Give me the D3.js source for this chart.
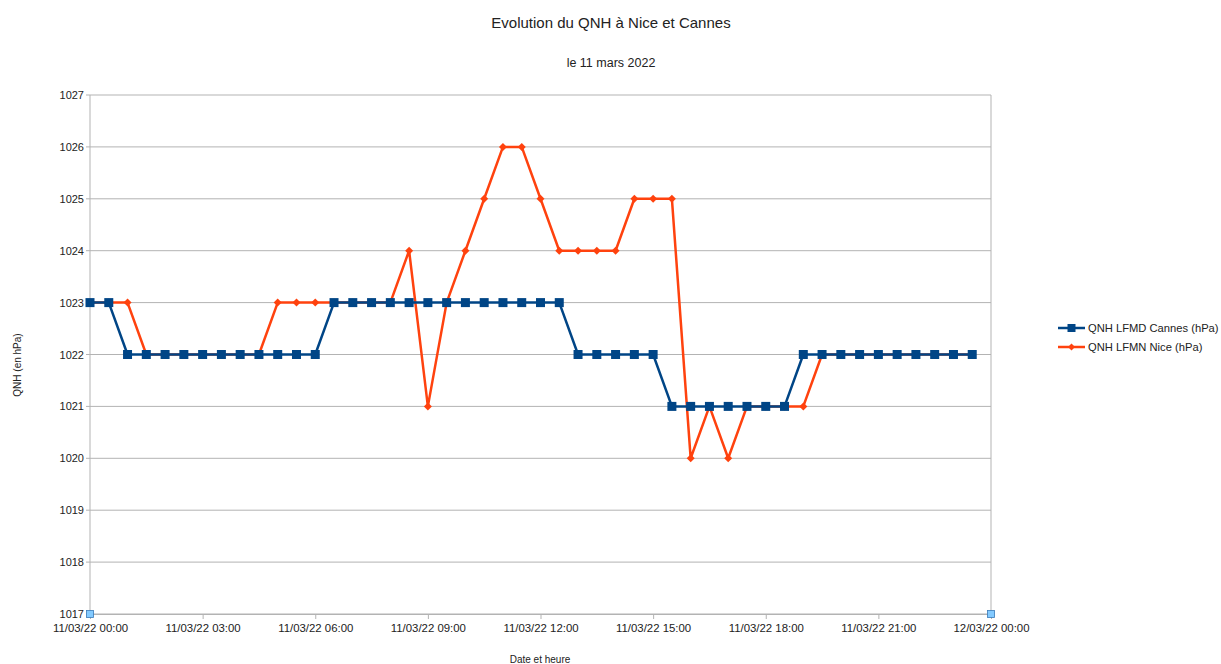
<!DOCTYPE html>
<html><head><meta charset="utf-8">
<script src="https://cdn.jsdelivr.net/npm/d3@7"></script>
<style>body{margin:0;background:#fff}svg{font-family:"Liberation Sans",Arial,sans-serif}</style>
</head><body><svg id="c" width="1221" height="664"></svg>
<script>
const times = ["00:00","00:30","01:00","01:30","02:00","02:30","03:00","03:30","04:00","04:30","05:00","05:30","06:00","06:30","07:00","07:30","08:00","08:30","09:00","09:30","10:00","10:30","11:00","11:30","12:00","12:30","13:00","13:30","14:00","14:30","15:00","15:30","16:00","16:30","17:00","17:30","18:00","18:30","19:00","19:30","20:00","20:30","21:00","21:30","22:00","22:30","23:00","23:30"];
const cannes = [1023,1023,1022,1022,1022,1022,1022,1022,1022,1022,1022,1022,1022,1023,1023,1023,1023,1023,1023,1023,1023,1023,1023,1023,1023,1023,1022,1022,1022,1022,1022,1021,1021,1021,1021,1021,1021,1021,1022,1022,1022,1022,1022,1022,1022,1022,1022,1022];
const nice = [1023,1023,1023,1022,1022,1022,1022,1022,1022,1022,1023,1023,1023,1023,1023,1023,1023,1024,1021,1023,1024,1025,1026,1026,1025,1024,1024,1024,1024,1025,1025,1025,1020,1021,1020,1021,1021,1021,1021,1022,1022,1022,1022,1022,1022,1022,1022,1022];
const xTickLabels = ["11/03/22 00:00","11/03/22 03:00","11/03/22 06:00","11/03/22 09:00","11/03/22 12:00","11/03/22 15:00","11/03/22 18:00","11/03/22 21:00","12/03/22 00:00"];
const yTicks = [1017,1018,1019,1020,1021,1022,1023,1024,1025,1026,1027];
const cornerMarkers = [[0,1017],[24,1017]];
const seriesNames = ["QNH LFMD Cannes (hPa)","QNH LFMN Nice (hPa)"];

const svg = d3.select("#c");
const L=90,R=991,T=95,B=614;
const hours = times.map(t=>{const [h,m]=t.split(":");return +h + (+m)/60;});
const x = d3.scaleLinear().domain([0,24]).range([L,R]);
const y = d3.scaleLinear().domain([1017,1027]).range([B,T]);

svg.append("g").selectAll("line").data(yTicks).join("line")
  .attr("x1",L-4).attr("x2",R).attr("y1",d=>y(d)).attr("y2",d=>y(d))
  .attr("stroke","#b3b3b3").attr("stroke-width",1);
svg.append("g").selectAll("text").data(yTicks).join("text")
  .attr("x",L-6).attr("y",d=>y(d)+4).attr("text-anchor","end")
  .attr("font-size",11).attr("fill","#222").text(d=>d);
const xa = d3.axisBottom(x).tickValues(d3.range(0,25,3)).tickSize(5).tickFormat((d,i)=>xTickLabels[i]);
const gx = svg.append("g").attr("transform",`translate(0,${B})`).call(xa);
gx.select(".domain").attr("stroke","#b3b3b3");
gx.selectAll(".tick line").attr("stroke","#b3b3b3");
gx.selectAll(".tick text").attr("font-size",11.4).attr("fill","#222").attr("dy","0.9em").attr("font-family","Liberation Sans, Arial, sans-serif");
svg.append("line").attr("x1",L).attr("x2",L).attr("y1",T).attr("y2",B).attr("stroke","#b3b3b3");
svg.append("line").attr("x1",R).attr("x2",R).attr("y1",T).attr("y2",B).attr("stroke","#b3b3b3");

const colors=["#004586","#ff420e"];
const line = d3.line().x((d,i)=>x(hours[i])).y(d=>y(d));
function drawCannes(){
  svg.append("path").datum(cannes).attr("d",line).attr("fill","none").attr("stroke",colors[0]).attr("stroke-width",2.5).attr("stroke-linejoin","round");
  svg.append("g").selectAll("rect").data(cannes).join("rect")
    .attr("x",(d,i)=>x(hours[i])-4.5).attr("y",d=>y(d)-4.5).attr("width",9).attr("height",9).attr("fill",colors[0]);
}
const diamond = (cx,cy,r)=>`M${cx},${cy-r}L${cx+r},${cy}L${cx},${cy+r}L${cx-r},${cy}Z`;
svg.append("path").datum(nice).attr("d",line).attr("fill","none").attr("stroke",colors[1]).attr("stroke-width",2.5).attr("stroke-linejoin","round");
svg.append("g").selectAll("path").data(nice).join("path")
  .attr("d",(d,i)=>diamond(x(hours[i]),y(d),4)).attr("fill",colors[1]);
drawCannes();

svg.append("g").selectAll("rect").data(cornerMarkers).join("rect")
  .attr("x",d=>x(d[0])-3.5).attr("y",d=>y(d[1])-3.5).attr("width",7).attr("height",7)
  .attr("fill","#83caff").attr("stroke","#3a7ab8").attr("stroke-width",0.8);

svg.append("text").attr("x",611).attr("y",28).attr("text-anchor","middle").attr("font-size",15).attr("fill","#222").text("Evolution du QNH à Nice et Cannes");
svg.append("text").attr("x",611).attr("y",67).attr("text-anchor","middle").attr("font-size",12.5).attr("fill","#222").text("le 11 mars 2022");
svg.append("text").attr("x",540).attr("y",663).attr("text-anchor","middle").attr("font-size",10).attr("fill","#222").text("Date et heure");
svg.append("text").attr("transform","translate(21,365) rotate(-90)").attr("text-anchor","middle").attr("font-size",10).attr("fill","#222").text("QNH (en hPa)");

const lg = svg.append("g");
seriesNames.forEach((n,i)=>{
  const ly = 328 + i*19;
  lg.append("line").attr("x1",1058).attr("x2",1085).attr("y1",ly).attr("y2",ly).attr("stroke",colors[i]).attr("stroke-width",2.5);
  if(i===0) lg.append("rect").attr("x",1067.5).attr("y",ly-4).attr("width",8).attr("height",8).attr("fill",colors[i]);
  else lg.append("path").attr("d",diamond(1071.5,ly,3.5)).attr("fill",colors[i]);
  lg.append("text").attr("x",1088).attr("y",ly+4).attr("font-size",11.2).attr("fill","#222").text(n);
});
</script></body></html>
